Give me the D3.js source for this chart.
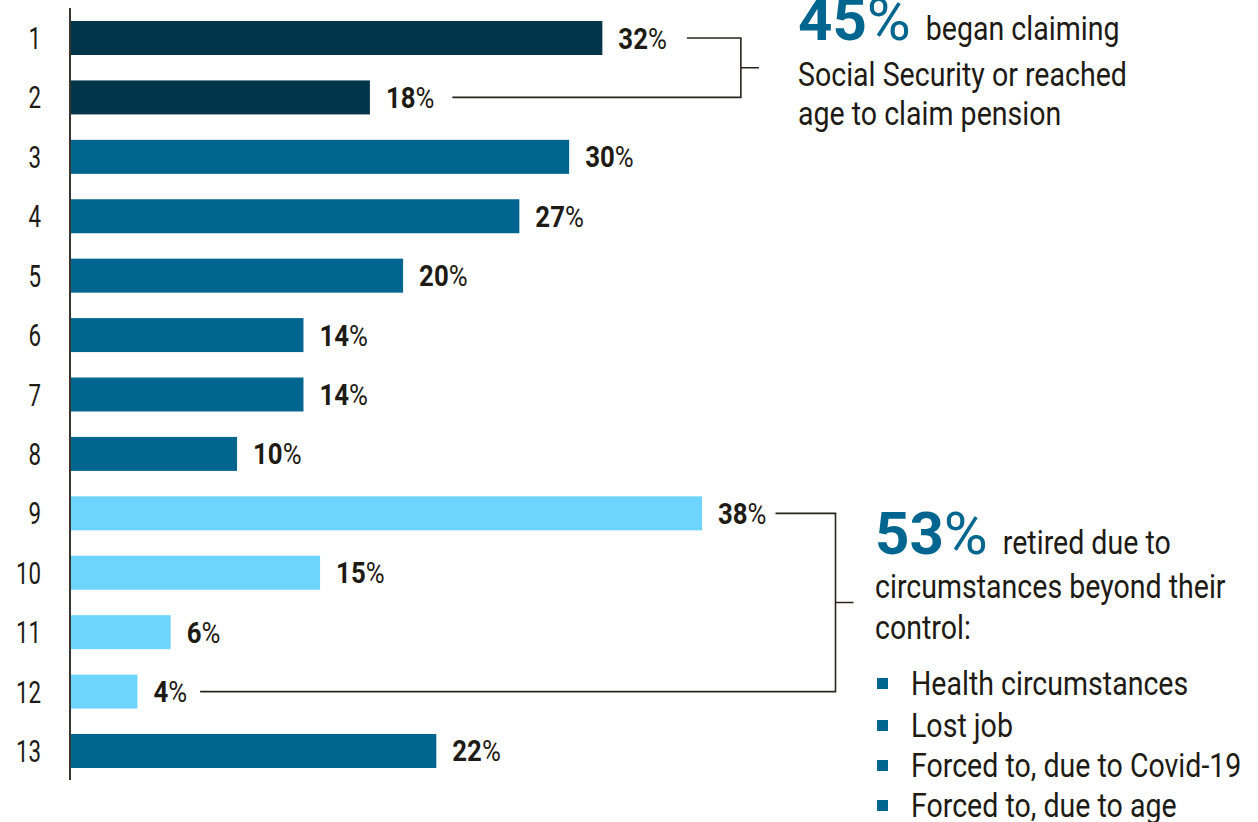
<!DOCTYPE html>
<html>
<head>
<meta charset="utf-8">
<script src="https://cdn.jsdelivr.net/npm/d3@7"></script>
<style>
  html, body { margin: 0; padding: 0; background: #fff; }
  svg { display: block; }
  text { font-family: Roboto, "DejaVu Sans", sans-serif; fill: #1e1a14; }
</style>
</head>
<body>
<svg id="chart" width="1258" height="822"></svg>
<script>
// Share of retirees by reason (%), rows 1–13
const categories = ["1","2","3","4","5","6","7","8","9","10","11","12","13"];
const values = [32, 18, 30, 27, 20, 14, 14, 10, 38, 15, 6, 4, 22];
// Colour group per row: "claim" = began claiming benefits, "other", "forced" = beyond their control
const groups = ["claim","claim","other","other","other","other","other","other","forced","forced","forced","forced","other"];
const groupColors = { claim: "#02344a", other: "#00668f", forced: "#6dd5fd" };

const topNote = { big: "45", rest: "began claiming", lines: ["Social Security or reached", "age to claim pension"] };
const bottomNote = { big: "53", rest: "retired due to", lines: ["circumstances beyond their", "control:"] };
const bullets = ["Health circumstances", "Lost job", "Forced to, due to Covid-19", "Forced to, due to age"];

// Horizontal squeeze giving the narrow, condensed letterforms
const SQ_TEXT = 0.84, SQ_LABEL = 0.86, SQ_TICK = 0.72, SQ_BIG = 1.0;

const svg = d3.select("#chart");

const x = d3.scaleLinear().domain([0, 38]).range([71, 702]);
const y = d3.scaleBand().domain(categories).range([8.3, 780.7])
  .paddingInner(0.428).paddingOuter(0.214);
const midY = c => y(c) + y.bandwidth() / 2;

// Places a text at (px, py) squeezed horizontally by sx
function squeezed(parent, px, py, size, sx) {
  return parent.append("text")
    .attr("transform", `translate(${px},${py}) scale(${sx},1)`)
    .attr("font-size", size);
}

// Bars
svg.append("g").selectAll("rect")
  .data(values)
  .join("rect")
  .attr("x", x(0))
  .attr("y", (d, i) => y(categories[i]))
  .attr("width", d => x(d) - x(0))
  .attr("height", y.bandwidth())
  .attr("fill", (d, i) => groupColors[groups[i]]);

// Category axis
const yAxis = svg.append("g").attr("transform", "translate(70,0)")
  .call(d3.axisLeft(y).tickSize(0).tickPadding(0));
yAxis.attr("font-family", null).attr("font-size", null);
yAxis.select(".domain").remove();
yAxis.selectAll(".tick text")
  .attr("x", 0).attr("dy", null)
  .attr("transform", `translate(-29,11) scale(${SQ_TICK},1)`)
  .attr("font-size", 31).attr("fill", "#1e1a14");

svg.append("line")
  .attr("x1", 70).attr("x2", 70).attr("y1", 8).attr("y2", 780)
  .attr("stroke", "#3a3530").attr("stroke-width", 2);

// Value labels: bold number, regular percent sign
const labelG = svg.append("g");
const labelEnds = values.map((d, i) => {
  const t = squeezed(labelG, x(d) + 16, midY(categories[i]) + 10.5, 30, SQ_LABEL);
  t.append("tspan").attr("font-weight", 700).text(d);
  t.append("tspan").text("%");
  return x(d) + 16 + t.node().getComputedTextLength() * SQ_LABEL;
});

// Bracket joining rows a..b, with a tick pointing to the note
function bracket(a, b, bx, gapA, gapB) {
  const ya = midY(categories[a]), yb = midY(categories[b]);
  const p = d3.path();
  p.moveTo(labelEnds[a] + gapA, ya);
  p.lineTo(bx, ya);
  p.lineTo(bx, yb);
  p.lineTo(labelEnds[b] + gapB, yb);
  const my = (ya + yb) / 2;
  p.moveTo(bx, my);
  p.lineTo(bx + 18, my);
  svg.append("path").attr("d", p.toString())
    .attr("fill", "none").attr("stroke", "#2a241c").attr("stroke-width", 1.6);
}
bracket(0, 1, labelEnds[0] + 74, 20, 18);
bracket(8, 11, labelEnds[8] + 69, 9, 13);

// Notes: large figure, then running text
function note(n, x0, y0, lineYs) {
  const g = svg.append("g");
  const big = squeezed(g, x0, y0, 60, SQ_BIG);
  big.append("tspan").attr("font-weight", 700).attr("fill", "#00668f").text(n.big);
  big.append("tspan").attr("font-weight", 400).attr("fill", "#00668f").text("%");
  const bigW = big.node().getComputedTextLength() * SQ_BIG;
  squeezed(g, x0 + bigW + 15, y0, 34, SQ_TEXT).text(n.rest);
  n.lines.forEach((l, k) => squeezed(g, x0, lineYs[k], 34, SQ_TEXT).text(l));
}
note(topNote, 798, 40, [86, 125]);
note(bottomNote, 875, 554, [598, 639]);

const bulletYs = [695, 737, 777, 817];
const bl = svg.append("g");
bullets.forEach((b, k) => {
  bl.append("rect").attr("x", 877).attr("y", bulletYs[k] - 17).attr("width", 11).attr("height", 11).attr("fill", "#00668f");
  squeezed(bl, 911, bulletYs[k], 34, SQ_TEXT).text(b);
});
</script>
</body>
</html>
